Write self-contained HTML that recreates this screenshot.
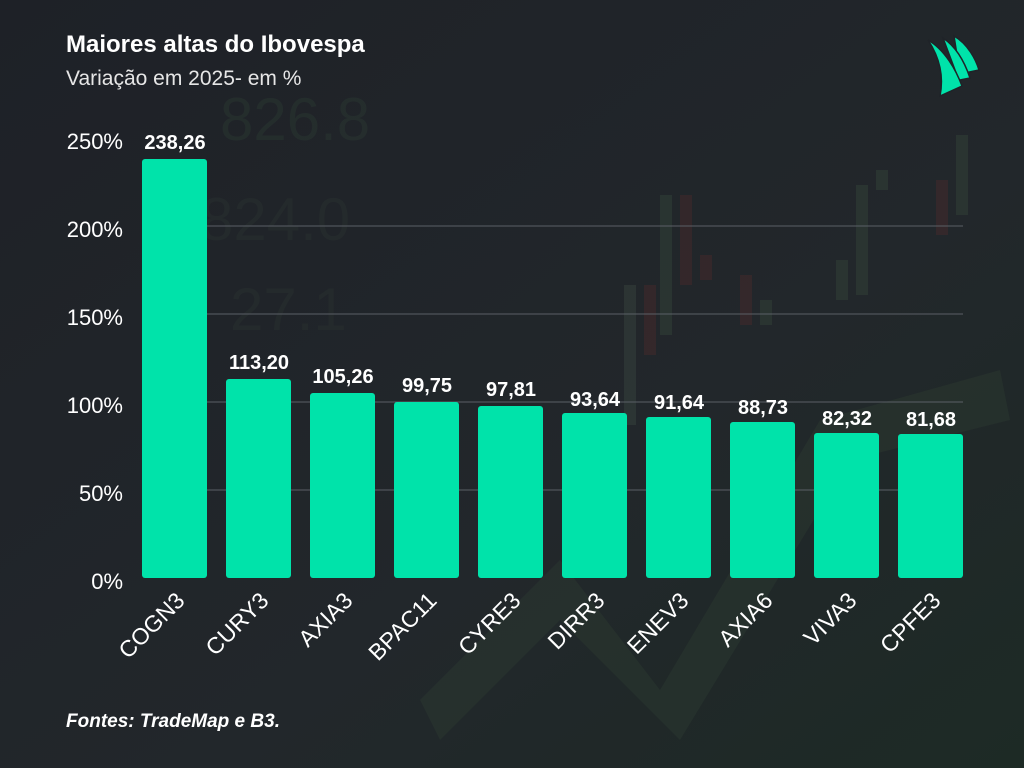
<!DOCTYPE html>
<html><head><meta charset="utf-8"><style>
html,body{margin:0;padding:0;background:#1f2328;}
svg{display:block}
text{font-family:"Liberation Sans",sans-serif}
</style></head><body>
<svg width="1024" height="768" viewBox="0 0 1024 768" xmlns="http://www.w3.org/2000/svg">
<defs>
<linearGradient id="bg" x1="0" y1="0" x2="1" y2="1">
<stop offset="0" stop-color="#1e2127"/><stop offset="0.6" stop-color="#22272b"/><stop offset="1" stop-color="#1d2a25"/>
</linearGradient>
</defs>
<rect width="1024" height="768" fill="url(#bg)"/>
<g opacity="0.45">
<text x="220" y="140" font-size="60" fill="#2c3a33">826.8</text>
<text x="200" y="240" font-size="60" fill="#2a3230">824.0</text>
<text x="230" y="330" font-size="60" fill="#2a3230">27.1</text>
<path d="M420 700 L560 560 L660 690 L820 420 L1000 370 L1010 420 L850 460 L680 740 L560 620 L440 740 Z" fill="#2c3a31"/>
<rect x="660" y="195" width="12" height="140" fill="#34453a"/>
<rect x="680" y="195" width="12" height="90" fill="#4a2a2c"/>
<rect x="700" y="255" width="12" height="25" fill="#4a2a2c"/>
<rect x="740" y="275" width="12" height="50" fill="#4a2a2c"/>
<rect x="760" y="300" width="12" height="25" fill="#34453a"/>
<rect x="836" y="260" width="12" height="40" fill="#34453a"/>
<rect x="856" y="185" width="12" height="110" fill="#34453a"/>
<rect x="876" y="170" width="12" height="20" fill="#34453a"/>
<rect x="936" y="180" width="12" height="55" fill="#4a2a2c"/>
<rect x="956" y="135" width="12" height="80" fill="#34453a"/>
<rect x="624" y="285" width="12" height="140" fill="#3a4640"/>
<rect x="644" y="285" width="12" height="70" fill="#4a2a2c"/>
</g>
<text x="66" y="52" font-size="24" font-weight="bold" fill="#ffffff">Maiores altas do Ibovespa</text>
<text x="66" y="85" font-size="21" fill="#e6e6e6">Variação em 2025- em %</text>
<!-- logo -->
<g fill="#00e3aa" stroke="#1f2328" stroke-width="1.5">
<path d="M954 36 C968 44 976 60 979 70 L960 74 Z"/>
<path d="M943 38 C958 48 966 66 970 78 L950 82 L958 78 Z"/>
<path d="M928 40 C945 50 956 70 962 86 L940 96 C944 76 940 58 928 40 Z"/>
</g>
<g stroke="#5a5f66" stroke-width="1">
<line x1="142" y1="226" x2="963" y2="226"/>
<line x1="142" y1="314" x2="963" y2="314"/>
<line x1="142" y1="402" x2="963" y2="402"/>
<line x1="142" y1="490" x2="963" y2="490"/>
</g>
<g font-size="22" fill="#ffffff" text-anchor="end">
<text x="123" y="149">250%</text>
<text x="123" y="237">200%</text>
<text x="123" y="325">150%</text>
<text x="123" y="413">100%</text>
<text x="123" y="501">50%</text>
<text x="123" y="589">0%</text>
</g>
<g fill="#00e3aa">
<rect x="142" y="159" width="65" height="419" rx="3"/>
<rect x="226" y="379" width="65" height="199" rx="3"/>
<rect x="310" y="393" width="65" height="185" rx="3"/>
<rect x="394" y="402" width="65" height="176" rx="3"/>
<rect x="478" y="406" width="65" height="172" rx="3"/>
<rect x="562" y="413" width="65" height="165" rx="3"/>
<rect x="646" y="417" width="65" height="161" rx="3"/>
<rect x="730" y="422" width="65" height="156" rx="3"/>
<rect x="814" y="433" width="65" height="145" rx="3"/>
<rect x="898" y="434" width="65" height="144" rx="3"/>
</g>
<g font-size="20" font-weight="bold" fill="#ffffff" text-anchor="middle">
<text x="175" y="149">238,26</text>
<text x="259" y="369">113,20</text>
<text x="343" y="383">105,26</text>
<text x="427" y="392">99,75</text>
<text x="511" y="396">97,81</text>
<text x="595" y="406">93,64</text>
<text x="679" y="409">91,64</text>
<text x="763" y="414">88,73</text>
<text x="847" y="425">82,32</text>
<text x="931" y="426">81,68</text>
</g>
<g font-size="23" fill="#ffffff" text-anchor="end">
<text transform="translate(186,602) rotate(-45)">COGN3</text>
<text transform="translate(270,602) rotate(-45)">CURY3</text>
<text transform="translate(354,602) rotate(-45)">AXIA3</text>
<text transform="translate(438,602) rotate(-45)">BPAC11</text>
<text transform="translate(522,602) rotate(-45)">CYRE3</text>
<text transform="translate(606,602) rotate(-45)">DIRR3</text>
<text transform="translate(690,602) rotate(-45)">ENEV3</text>
<text transform="translate(774,602) rotate(-45)">AXIA6</text>
<text transform="translate(858,602) rotate(-45)">VIVA3</text>
<text transform="translate(942,602) rotate(-45)">CPFE3</text>
</g>
<text x="66" y="727" font-size="19" font-weight="bold" font-style="italic" fill="#ffffff">Fontes: TradeMap e B3.</text>
</svg>
</body></html>
